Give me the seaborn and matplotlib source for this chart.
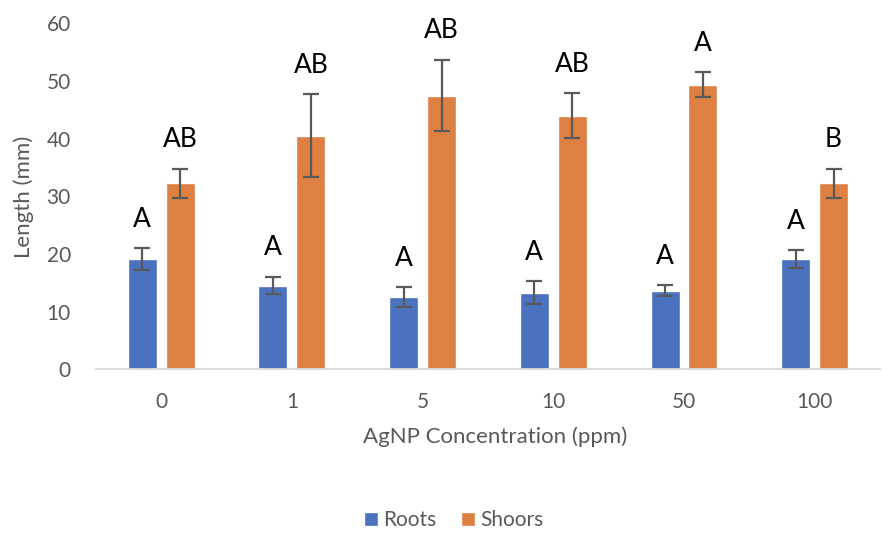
import pandas as pd
import matplotlib
matplotlib.use('Agg')
import matplotlib.pyplot as plt
import seaborn as sns

# values
concentrations = ['0', '1', '5', '10', '50', '100']
series = ['Roots', 'Shoors']
roots = [19.1, 14.5, 12.5, 13.3, 13.6, 19.1]
roots_err = [1.9, 1.5, 1.7, 1.95, 0.95, 1.55]
shoots = [32.3, 40.5, 47.5, 44.0, 49.4, 32.3]
shoots_err = [2.5, 7.2, 6.2, 3.9, 2.1, 2.5]
roots_letters = ['A', 'A', 'A', 'A', 'A', 'A']
shoots_letters = ['AB', 'AB', 'AB', 'AB', 'A', 'B']
colors = ['#4A72BE', '#DF8043']

GREY = '#595959'

df = pd.DataFrame({
    'conc': concentrations * 2,
    'length': roots + shoots,
    'series': [series[0]] * len(roots) + [series[1]] * len(shoots),
})

sns.set_style('white')
plt.rcParams['font.family'] = ['Lato', 'DejaVu Sans']

fig = plt.figure(figsize=(8.88, 5.34), dpi=100)
ax = fig.add_axes([0.108, 0.3084, 0.883, 0.6476])

sns.barplot(data=df, x='conc', y='length', hue='series', order=concentrations,
            hue_order=series, palette=colors, width=0.58, gap=0.235,
            errorbar=None, saturation=1, ax=ax)

# error bars and significance letters on top of each bar
errs = [roots_err, shoots_err]
letters = [roots_letters, shoots_letters]
for container, err, lab in zip(ax.containers, errs, letters):
    for bar, e, l in zip(container, err, lab):
        x = bar.get_x() + bar.get_width() / 2
        h = bar.get_height()
        ax.errorbar(x, h, yerr=e, fmt='none', ecolor=GREY, elinewidth=1.6,
                    capsize=6, capthick=1.6, zorder=3)
        ax.annotate(l, (x, h + e), xytext=(0, 12), textcoords='offset points',
                    ha='center', va='bottom', fontsize=19, color='black')

ax.set_ylim(0, 60)
ax.set_yticks(range(0, 61, 10))
ax.set_xlim(-0.5, len(concentrations) - 0.5)

for s in ['top', 'right', 'left']:
    ax.spines[s].set_visible(False)
ax.spines['bottom'].set_color('#D9D9D9')
ax.spines['bottom'].set_linewidth(1.3)

ax.tick_params(axis='both', length=0, labelsize=15, labelcolor=GREY)
ax.tick_params(axis='x', pad=16)
ax.tick_params(axis='y', pad=18)

ax.set_xlabel('AgNP Concentration (ppm)', fontsize=16, color=GREY)
ax.set_ylabel('Length (mm)', fontsize=16, color=GREY)
ax.xaxis.set_label_coords(0.509, -0.165)
ax.yaxis.set_label_coords(-0.079, 0.5)

handles, labels = ax.get_legend_handles_labels()
ax.get_legend().remove()
leg = fig.legend(handles, labels, loc='center', bbox_to_anchor=(0.511, 0.026),
                 ncol=2, frameon=False, fontsize=15, handlelength=0.65,
                 handleheight=0.65, handletextpad=0.25, columnspacing=1.2)
for t in leg.get_texts():
    t.set_color(GREY)

fig.savefig('out.png', dpi=100)
plt.close(fig)
